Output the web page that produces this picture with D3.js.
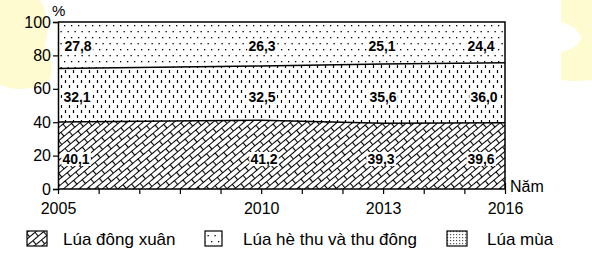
<!DOCTYPE html>
<html><head><meta charset="utf-8">
<script src="https://cdn.jsdelivr.net/npm/d3@7"></script>
<style>body{margin:0;background:#fff}svg{display:block}</style>
</head><body>
<script>
const years = [2005, 2010, 2013, 2016];
const dongXuan = [40.1, 41.2, 39.3, 39.6];
const heThu = [32.1, 32.5, 35.6, 36.0];
const luaMua = [27.8, 26.3, 25.1, 24.4];
const yTicks = [0, 20, 40, 60, 80, 100];
const seriesNames = ["Lúa đông xuân", "Lúa hè thu và thu đông", "Lúa mùa"];

const W = 592, H = 256;
const svg = d3.select("body").append("svg").attr("width", W).attr("height", H)
  .style("font-family", "Arial, 'Liberation Sans', sans-serif");

// faint watermark shapes
const wm = svg.append("g").attr("fill", "#fffbd0");
wm.append("path").attr("d", "M0,0 H40 Q52,20 45,45 Q55,60 50,80 Q30,92 10,88 L0,85 Z");
wm.append("path").attr("d", "M561,0 H592 V80 Q575,82 561,80 V52 Q575,50 582,38 Q575,25 561,22 Z");

const defs = svg.append("defs");
// brick diagonal pattern
const pb = defs.append("pattern").attr("id", "brick").attr("patternUnits", "userSpaceOnUse")
  .attr("width", 14).attr("height", 10).attr("patternTransform", "rotate(-40)");
pb.append("rect").attr("width", 14).attr("height", 10).attr("fill", "#fff");
pb.append("path").attr("d", "M0,0.5 H14 M0,5.5 H14 M3.5,0.5 V5.5 M10.5,5.5 V10.5")
  .attr("stroke", "#000").attr("stroke-width", 1.1).attr("fill", "none");
// vertical dashes
const pd = defs.append("pattern").attr("id", "dash").attr("patternUnits", "userSpaceOnUse")
  .attr("width", 8).attr("height", 10);
pd.append("rect").attr("width", 8).attr("height", 10).attr("fill", "#fff");
pd.append("path").attr("d", "M1.5,0 V3 M5.5,5 V8").attr("stroke", "#000").attr("stroke-width", 1.2);
// sparse dots
const pt = defs.append("pattern").attr("id", "dots").attr("patternUnits", "userSpaceOnUse")
  .attr("width", 14).attr("height", 12);
pt.append("rect").attr("width", 14).attr("height", 12).attr("fill", "#fff");
[[1, 1], [8, 1], [4.5, 7], [11.5, 7]].forEach(([a, b]) =>
  pt.append("rect").attr("x", a).attr("y", b).attr("width", 1.3).attr("height", 1.3).attr("fill", "#000"));
// dense dots (legend)
const pdd = defs.append("pattern").attr("id", "dense").attr("patternUnits", "userSpaceOnUse")
  .attr("width", 3).attr("height", 3);
pdd.append("rect").attr("width", 3).attr("height", 3).attr("fill", "#fff");
pdd.append("rect").attr("width", 1.2).attr("height", 1.2).attr("fill", "#555");

const x = d3.scaleLinear().domain([2005, 2016]).range([58, 505]);
const y = d3.scaleLinear().domain([0, 100]).range([189, 22]);

const rows = years.map((yr, i) => ({year: yr, a: dongXuan[i], b: heThu[i], c: luaMua[i]}));
const stack = d3.stack().keys(["a", "b", "c"])(rows);
const fills = ["url(#brick)", "url(#dash)", "url(#dots)"];
const area = d3.area().x(d => x(d.data.year)).y0(d => y(d[0])).y1(d => y(d[1]));
svg.append("g").selectAll("path").data(stack).join("path")
  .attr("d", area).attr("fill", (d, i) => fills[i]);
// boundary lines
svg.append("g").selectAll("path").data(stack.slice(0, 2)).join("path")
  .attr("d", d3.line().x(d => x(d.data.year)).y(d => y(d[1])))
  .attr("stroke", "#000").attr("stroke-width", 1.5).attr("fill", "none");
// frame
svg.append("path").attr("d", `M${x(2005)},${y(100)} H${x(2016)} V${y(0)}`)
  .attr("stroke", "#000").attr("stroke-width", 1.5).attr("fill", "none");

// axes
const yAxis = svg.append("g").attr("transform", `translate(${x(2005)},0)`)
  .call(d3.axisLeft(y).tickValues(yTicks).tickSize(5).tickPadding(2));
const xAxis = svg.append("g").attr("transform", `translate(0,${y(0)})`)
  .call(d3.axisBottom(x).tickValues(d3.range(2005, 2017)).tickSize(5).tickFormat(d => years.includes(d) ? d : "").tickPadding(9));
[yAxis, xAxis].forEach(g => {
  g.selectAll("path.domain").attr("stroke", "#000").attr("stroke-width", 1.5);
  g.selectAll("line").attr("stroke", "#000").attr("stroke-width", 1.2);
  g.selectAll("text").attr("fill", "#000").style("font-size", "16px").style("font-family", "Arial, 'Liberation Sans', sans-serif");
});
xAxis.select("path.domain").attr("d", `M${x(2005)},0 H${x(2016)}`);
xAxis.selectAll(".tick").filter(d => d === 2016).select("line").attr("y1", -6);

svg.append("text").attr("x", 52).attr("y", 16).text("%").style("font-size", "15px");
svg.append("text").attr("x", 510).attr("y", 192).text("Năm").style("font-size", "16px");

// value labels
const labelX = [[76, 264, 381, 481], [77, 262, 383, 484], [78, 262, 382, 481]];
const labelY = [159, 97, 46];
const series = [dongXuan, heThu, luaMua];
const lg = svg.append("g").style("font-size", "14px").style("font-weight", "bold");
series.forEach((vals, s) => {
  vals.forEach((v, i) => {
    const t = lg.append("text").attr("x", labelX[s][i]).attr("y", labelY[s])
      .attr("text-anchor", "middle").attr("dominant-baseline", "central")
      .text(d3.format(".1f")(v).replace(".", ","));
    const bb = t.node().getBBox();
    lg.insert("rect", () => t.node()).attr("x", bb.x - 1).attr("y", bb.y + 1)
      .attr("width", bb.width + 2).attr("height", bb.height - 2).attr("fill", "#fff");
  });
});

// legend
const legX = [27, 205, 447];
const textX = [63, 243, 487];
const legFills = ["url(#brick)", "url(#dots)", "url(#dense)"];
const legW = [20, 17, 20];
const leg = svg.append("g");
seriesNames.forEach((n, i) => {
  leg.append("rect").attr("x", legX[i]).attr("y", 231).attr("width", legW[i]).attr("height", 15)
    .attr("fill", legFills[i]).attr("stroke", "#000").attr("stroke-width", 1.2);
  leg.append("text").attr("x", textX[i]).attr("y", 245).text(n).style("font-size", "17px");
});
</script>
</body></html>
